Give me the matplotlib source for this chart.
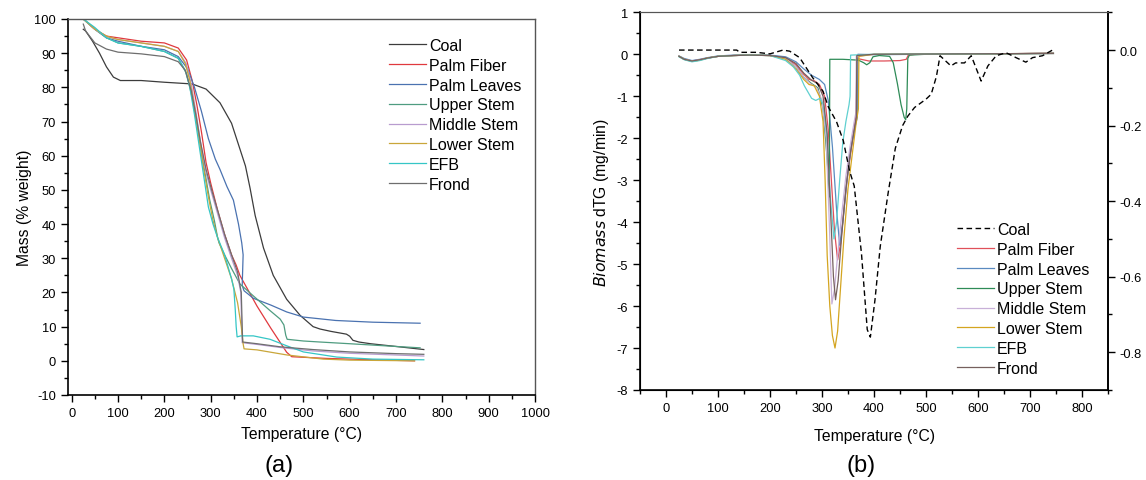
import matplotlib
matplotlib.use("Agg")
import matplotlib.pyplot as plt
from matplotlib.ticker import MultipleLocator, FormatStrFormatter

plt.rcParams['font.family'] = ['Liberation Sans', 'DejaVu Sans']
plt.rcParams['axes.unicode_minus'] = False

# ---------------- data: (a) TGA mass (% weight) ----------------
labels = ["Coal", "Palm Fiber", "Palm Leaves", "Upper Stem",
          "Middle Stem", "Lower Stem", "EFB", "Frond"]

coal_T = [25, 30, 45, 60, 75, 90, 105, 150, 200, 260, 290, 320, 345, 363, 375, 385, 396, 414,
          435, 464, 493, 521, 536, 560, 593, 600, 607, 620, 645, 700, 760]
coal_M = [97, 96.5, 93.5, 90, 86, 83, 82, 82, 81.5, 81, 79.5, 75.5, 69.5, 62, 57, 50.5, 42.5, 33,
          25, 18, 13.3, 10, 9.3, 8.6, 7.8, 7.2, 6, 5.5, 5, 4.2, 3.3]

fiber_T = [25, 50, 75, 100, 150, 200, 230, 248, 260, 270, 280, 290, 300, 315, 330, 345, 355, 363,
           400, 430, 464, 475, 550, 650, 740]
fiber_M = [100, 97, 95, 94.5, 93.5, 93, 91.5, 88, 82, 75, 67, 58, 52, 44, 37, 31, 28, 25,
           16, 9.5, 2.5, 1.2, 0.7, 0.3, 0]

leaves_T = [25, 50, 75, 100, 150, 200, 230, 250, 265, 280, 295, 310, 320, 335, 349, 360, 367, 370,
            368, 372, 392, 430, 464, 500, 570, 650, 752]
leaves_M = [100, 97, 94.5, 93.5, 92, 91, 89, 85.5, 80, 73, 65, 59, 56, 51, 47, 40, 34.5, 31,
            22, 20.5, 18.3, 16.3, 14.3, 12.8, 11.8, 11.3, 11]

upper_T = [25, 50, 75, 100, 150, 200, 230, 248, 260, 272, 285, 298, 308, 315, 318, 330, 345, 363,
           392, 428, 450, 458, 462, 465, 500, 536, 600, 700, 752]
upper_M = [100, 97, 94.5, 93, 92, 90.5, 88.5, 84, 77, 68, 57, 47, 41, 36, 34.5, 31, 27, 22.5,
           19, 14.7, 12.2, 10.5, 7.5, 6.3, 5.8, 5.5, 5.0, 4.2, 3.8]

middle_T = [25, 50, 75, 100, 150, 200, 230, 247, 258, 268, 278, 290, 300, 315, 330, 345, 358, 365,
            367, 368, 400, 450, 520, 600, 700, 760]
middle_M = [100, 97, 94.8, 94, 93, 92, 90.5, 87, 81, 73, 64, 55, 50, 43, 36, 30, 25, 20,
            10, 5.3, 4.8, 3.9, 2.9, 2.2, 1.7, 1.4]

lower_T = [25, 50, 75, 100, 150, 200, 230, 245, 255, 265, 275, 285, 295, 305, 315, 330, 345, 358,
           366, 370, 372, 400, 465, 543, 600, 740]
lower_M = [100, 97, 95, 94, 93, 92, 90.5, 87, 82, 74, 65, 56, 48, 41, 36, 30, 24, 17,
           10, 5, 3.5, 3.2, 1.7, 0.5, 0.2, 0]

efb_T = [25, 50, 75, 100, 150, 200, 230, 245, 255, 265, 275, 285, 295, 305, 315, 330, 345, 350,
         353, 355, 357, 365, 392, 428, 464, 500, 572, 650, 760]
efb_M = [100, 97.5, 94.5, 93, 92, 90.5, 88.5, 85, 80, 72, 63, 54, 45, 40, 36, 31, 24, 21,
         15, 10, 7, 7.3, 7.3, 6.3, 4.4, 2.6, 1.1, 0.5, 0.3]

frond_T = [25, 30, 50, 75, 100, 150, 200, 230, 245, 258, 268, 278, 290, 302, 315, 330, 345, 358,
           366, 368, 369, 400, 450, 520, 600, 700, 760]
frond_M = [98.5, 96.5, 93, 91.2, 90.3, 89.8, 89, 87.5, 85, 79, 72, 64, 56, 50, 44, 37, 31, 26,
           20, 10, 5.5, 5.0, 4.1, 3.3, 2.6, 2.1, 1.9]

# ---------------- data: (b) dTG ----------------
coal_dT = [25, 136, 142, 174, 200, 225, 238, 257, 282, 302, 312, 328, 341, 353, 362, 376, 387,
           393, 402, 412, 427, 441, 455, 465, 478, 500, 510, 520, 527, 548, 557, 574, 587, 606,
           619, 635, 654, 673, 692, 705, 724, 747]
coal_dV = [0.0, 0.0, -0.006, -0.006, -0.01, 0.0, -0.003, -0.02, -0.073, -0.109, -0.15, -0.19,
           -0.24, -0.32, -0.36, -0.54, -0.74, -0.76, -0.66, -0.52, -0.38, -0.26, -0.2, -0.175,
           -0.152, -0.13, -0.117, -0.07, -0.015, -0.042, -0.034, -0.034, -0.015, -0.082, -0.042,
           -0.015, -0.007, -0.02, -0.032, -0.02, -0.015, 0.003]

fiber_dT = [25, 35, 50, 65, 80, 100, 130, 160, 200, 230, 250, 265, 275, 285, 295, 305, 312, 318,
            324, 330, 336, 342, 350, 358, 364, 366, 367, 375, 390, 420, 450, 462, 466, 480, 550,
            650, 745]
fiber_dV = [-0.05, -0.12, -0.16, -0.13, -0.09, -0.05, -0.03, -0.02, -0.03, -0.08, -0.25, -0.48,
            -0.6, -0.63, -0.72, -1.0, -1.8, -3.0, -4.2, -4.9, -4.5, -3.7, -2.8, -2.1, -1.6, -1.4,
            -0.1, -0.12, -0.16, -0.16, -0.15, -0.12, -0.02, 0.0, 0.0, 0.01, 0.03]

leaves_dT = [25, 35, 50, 65, 80, 100, 130, 160, 200, 230, 250, 265, 280, 295, 305, 312, 320, 328,
             334, 340, 348, 356, 364, 368, 369, 400, 500, 745]
leaves_dV = [-0.04, -0.1, -0.15, -0.12, -0.08, -0.04, -0.02, -0.01, -0.02, -0.06, -0.18, -0.35,
             -0.5, -0.6, -0.72, -1.1, -2.2, -3.7, -4.55, -4.0, -3.0, -2.2, -1.7, -1.5, 0.0,
             -0.01, 0.0, 0.02]

upper_dT = [25, 35, 50, 65, 80, 100, 130, 160, 200, 230, 250, 265, 280, 292, 302, 310, 314, 315,
            340, 370, 380, 386, 392, 398, 410, 430, 437, 445, 452, 458, 461, 463, 465, 468, 500,
            745]
upper_dV = [-0.05, -0.12, -0.17, -0.14, -0.09, -0.05, -0.03, -0.02, -0.03, -0.1, -0.3, -0.55,
            -0.7, -0.8, -1.3, -2.5, -3.4, -0.12, -0.12, -0.14, -0.2, -0.25, -0.2, -0.06, -0.03,
            -0.05, -0.2, -0.7, -1.2, -1.5, -1.56, -1.3, -0.1, -0.02, 0.0, 0.02]

middle_dT = [25, 35, 50, 65, 80, 100, 130, 160, 200, 230, 250, 265, 278, 290, 300, 308, 314, 319,
             324, 330, 338, 346, 354, 362, 365, 366, 400, 745]
middle_dV = [-0.05, -0.12, -0.16, -0.13, -0.09, -0.05, -0.03, -0.02, -0.03, -0.1, -0.3, -0.55,
             -0.7, -0.8, -1.1, -2.0, -4.0, -5.95, -5.6, -4.8, -3.8, -2.9, -2.2, -1.6, -1.4,
             -0.05, 0.0, 0.02]

lower_dT = [25, 35, 50, 65, 80, 100, 130, 160, 200, 230, 250, 265, 275, 285, 295, 302, 306, 310,
            315, 320, 325, 330, 336, 342, 350, 358, 365, 370, 371, 400, 745]
lower_dV = [-0.05, -0.12, -0.17, -0.14, -0.09, -0.05, -0.03, -0.02, -0.03, -0.12, -0.35, -0.6,
            -0.72, -0.75, -1.0, -1.6, -3.0, -4.8, -6.0, -6.7, -7.0, -6.6, -5.5, -4.4, -3.2,
            -2.4, -1.7, -1.3, -0.05, 0.0, 0.02]

efb_dT = [25, 35, 50, 65, 80, 100, 130, 160, 200, 230, 245, 257, 266, 273, 280, 288, 296, 303,
          310, 316, 323, 328, 334, 340, 346, 352, 354, 355, 400, 745]
efb_dV = [-0.06, -0.13, -0.18, -0.15, -0.1, -0.05, -0.03, -0.02, -0.03, -0.15, -0.3, -0.5,
          -0.75, -0.9, -1.05, -1.1, -1.05, -1.2, -2.0, -3.4, -4.4, -4.0, -3.0, -2.1, -1.6,
          -1.2, -1.0, -0.02, 0.0, 0.02]

frond_dT = [25, 35, 50, 65, 80, 100, 130, 160, 200, 230, 250, 265, 280, 292, 302, 310, 316, 322,
            326, 331, 338, 346, 354, 362, 366, 367, 400, 745]
frond_dV = [-0.05, -0.12, -0.16, -0.13, -0.09, -0.05, -0.03, -0.02, -0.03, -0.08, -0.22, -0.45,
            -0.62, -0.7, -1.0, -1.9, -3.6, -5.3, -5.85, -5.4, -4.3, -3.2, -2.4, -1.8, -1.5,
            -0.03, 0.0, 0.02]

colors_a = ["#3c3c3c", "#e0393e", "#4a72b0", "#4f9c80", "#b89ccf", "#c9a63a", "#35c6c6", "#6e6e6e"]
colors_b = ["#000000", "#e0505a", "#5a8ac0", "#2e8b57", "#c8b0d8", "#d4a520", "#5fd0d0", "#76605e"]

# ---------------- figure ----------------
W, H = 1146, 481
fig = plt.figure(figsize=(W / 100, H / 100), dpi=100)

axA = fig.add_axes([68 / W, 1 - 396 / H, (535 - 68) / W, (396 - 20) / H])
axB = fig.add_axes([640 / W, 1 - 391 / H, (1108 - 640) / W, (391 - 13.3) / H])

tick_fs = 9.3
lab_fs = 11.3
leg_fs = 11.5
lw = 0.9

# ----- panel (a)
seriesA = [(coal_T, coal_M), (fiber_T, fiber_M), (leaves_T, leaves_M), (upper_T, upper_M),
           (middle_T, middle_M), (lower_T, lower_M), (efb_T, efb_M), (frond_T, frond_M)]
for (t, m), c, lab in zip(seriesA, colors_a, labels):
    axA.plot(t, m, color=c, lw=lw, label=lab)

axA.set_xlim(-8, 1000)
axA.set_ylim(-10, 100)
axA.xaxis.set_major_locator(MultipleLocator(100))
axA.xaxis.set_minor_locator(MultipleLocator(50))
axA.yaxis.set_major_locator(MultipleLocator(10))
axA.yaxis.set_minor_locator(MultipleLocator(5))
axA.tick_params(which='major', direction='out', length=5, width=1, labelsize=tick_fs)
axA.tick_params(which='minor', direction='out', length=3, width=1)
axA.tick_params(top=False, right=False, which='both')
for s in ['top', 'right']:
    axA.spines[s].set_color('#555555')
    axA.spines[s].set_linewidth(1.0)
for s in ['left', 'bottom']:
    axA.spines[s].set_linewidth(1.2)
axA.set_xlabel("Temperature (°C)", fontsize=lab_fs, labelpad=5)
axA.set_ylabel("Mass (% weight)", fontsize=lab_fs, labelpad=2)
axA.legend(loc='upper left', bbox_to_anchor=(389 / W, 1 - 39 / H),
           bbox_transform=fig.transFigure, frameon=False, fontsize=leg_fs,
           handlelength=2.3, handletextpad=0.2, labelspacing=0.3, borderpad=0,
           borderaxespad=0)
fig.text(279 / W, 1 - 466 / H, "(a)", fontsize=17, ha='center', va='center')

# ----- panel (b)
seriesB = [(fiber_dT, fiber_dV), (leaves_dT, leaves_dV), (upper_dT, upper_dV),
           (middle_dT, middle_dV), (lower_dT, lower_dV), (efb_dT, efb_dV), (frond_dT, frond_dV)]
handles = []
for (t, v), c, lab in zip(seriesB, colors_b[1:], labels[1:]):
    ln, = axB.plot(t, v, color=c, lw=lw, label=lab)
    handles.append(ln)

axB.set_xlim(-50, 850)
axB.set_ylim(-8, 1)
axB.xaxis.set_major_locator(MultipleLocator(100))
axB.xaxis.set_minor_locator(MultipleLocator(50))
axB.yaxis.set_major_locator(MultipleLocator(1))
axB.yaxis.set_minor_locator(MultipleLocator(0.5))
axB.tick_params(which='major', direction='out', length=5, width=1, labelsize=tick_fs)
axB.tick_params(which='minor', direction='out', length=3, width=1)
axB.tick_params(top=False, which='both')
axB.spines['top'].set_color('#555555')
for s in ['left', 'bottom', 'right']:
    axB.spines[s].set_linewidth(1.2)
axB.set_xlabel("Temperature (°C)", fontsize=lab_fs, labelpad=10)
axB.set_ylabel(r"$\it{Biomass}$ dTG (mg/min)", fontsize=lab_fs, labelpad=4)

axR = axB.twinx()
coal_ln, = axR.plot(coal_dT, coal_dV, color='black', lw=1.0, ls=(0, (4, 2.5)), label="Coal")
axR.set_ylim(-0.9, 0.1)
axR.yaxis.set_major_locator(MultipleLocator(0.2))
axR.yaxis.set_minor_locator(MultipleLocator(0.1))
axR.yaxis.set_major_formatter(FormatStrFormatter('%.1f'))
axR.tick_params(which='major', direction='out', length=5, width=1, labelsize=tick_fs, pad=3)
axR.tick_params(which='minor', direction='out', length=3, width=1)
axR.spines['right'].set_linewidth(1.2)
axR.spines['top'].set_color('#555555')

axR.legend([coal_ln] + handles, labels, loc='upper left',
           bbox_to_anchor=(957 / W, 1 - 223 / H), bbox_transform=fig.transFigure,
           frameon=False, fontsize=leg_fs, handlelength=2.3, handletextpad=0.2,
           labelspacing=0.3, borderpad=0, borderaxespad=0)
fig.text(861 / W, 1 - 466 / H, "(b)", fontsize=17, ha='center', va='center')

fig.savefig("out.png", dpi=100)
